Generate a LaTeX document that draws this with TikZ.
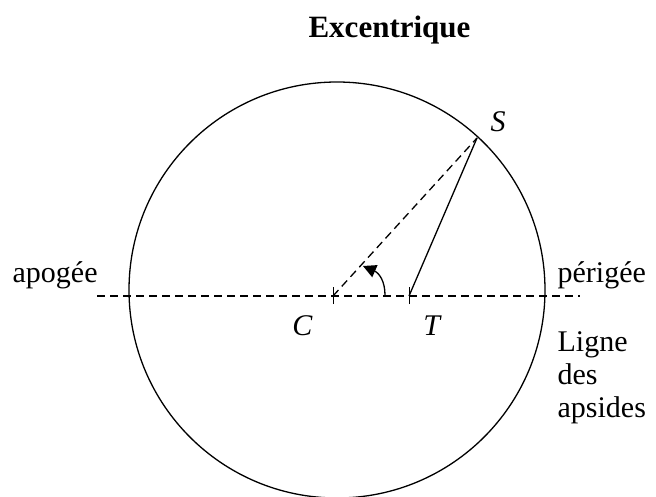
\documentclass[tikz,border=0pt]{standalone}
\usepackage{fontspec}
\setmainfont{Liberation Serif}
\usetikzlibrary{arrows.meta}

\tikzstyle{lbl} = [inner sep=0pt, anchor=base, font=\fontsize{30}{33}\selectfont]
\tikzstyle{apside} = [dashed, dash pattern=on 8pt off 5pt]
\tikzstyle{tick} = [line width=1pt]

\begin{document}
\begin{tikzpicture}[x=1pt, y=-1pt, line width=1.3pt]
\useasboundingbox (0,0) rectangle (656,497);
% points
\coordinate (O) at (337,290);
\coordinate (C) at (333,296);
\coordinate (T) at (409,296);
\coordinate (S) at (477,138);
\coordinate (A) at (97,296);
\coordinate (P) at (580,296);
% excentrique
\draw (O) circle[radius=208pt];
\draw[apside] (A) -- (P);
\draw[apside] (C) -- (S);
\draw (T) -- (S);
\draw[tick] ([yshift=-8pt]C) -- ([yshift=9pt]C);
\draw[tick] ([yshift=-8pt]T) -- ([yshift=9pt]T);
% angle
\coordinate (a1) at (385,295);
\coordinate (a2) at (363,266);
\draw[-{Triangle[length=13pt,width=13pt]}] (a1) .. controls (385,281) and (379,273) .. (a2);
% labels
\node[lbl, font=\fontsize{31}{34}\selectfont\bfseries] (title) at (389.5,38) {Excentrique};
\node[lbl] (lS) at (498,132) {\textit{S}};
\node[lbl] (lC) at (302.5,335) {\textit{C}};
\node[lbl] (lT) at (432.5,335) {\textit{T}};
\node[lbl, anchor=base west] (apo) at (12,282) {apogée};
\node[lbl, anchor=base west] (peri) at (557,282) {périgée};
\node[lbl, anchor=base west] (lig1) at (557,351) {Ligne};
\node[lbl, anchor=base west] (lig2) at (557,384) {des};
\node[lbl, anchor=base west] (lig3) at (557,417) {apsides};
\end{tikzpicture}
\end{document}
